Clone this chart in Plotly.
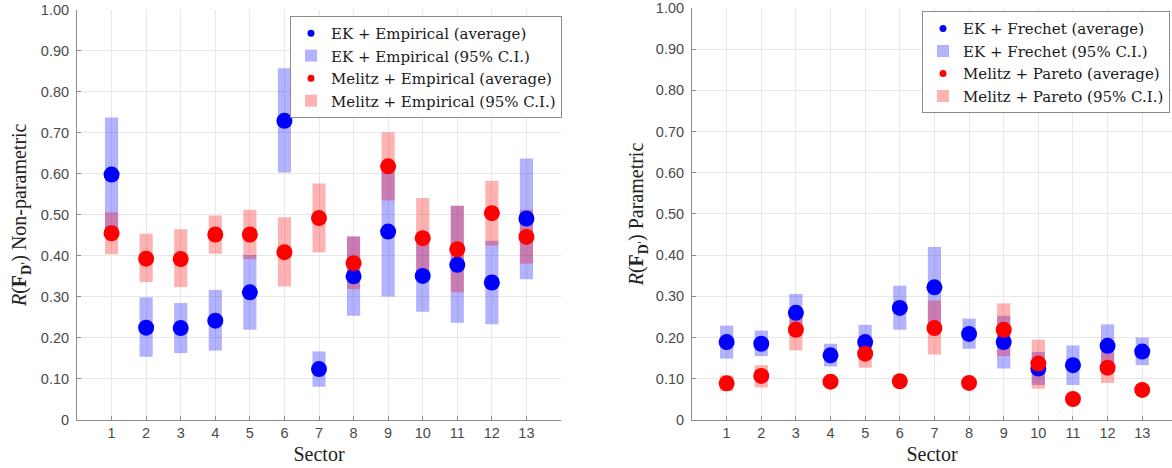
import plotly.graph_objects as go

sectors = list(range(1, 14))

# non-parametric (left)
ek_emp_avg = [0.598, 0.225, 0.224, 0.242, 0.311, 0.729, 0.124, 0.350, 0.459, 0.351, 0.378, 0.335, 0.491]
ek_emp_lo = [0.465, 0.154, 0.163, 0.169, 0.220, 0.603, 0.081, 0.254, 0.301, 0.264, 0.237, 0.233, 0.343]
ek_emp_hi = [0.737, 0.299, 0.285, 0.317, 0.402, 0.857, 0.167, 0.447, 0.615, 0.438, 0.522, 0.437, 0.637]
mel_emp_avg = [0.455, 0.393, 0.392, 0.452, 0.452, 0.409, 0.492, 0.382, 0.618, 0.443, 0.416, 0.504, 0.446]
mel_emp_lo = [0.404, 0.336, 0.324, 0.405, 0.392, 0.325, 0.409, 0.319, 0.535, 0.345, 0.311, 0.425, 0.381]
mel_emp_hi = [0.506, 0.454, 0.465, 0.498, 0.512, 0.494, 0.576, 0.447, 0.701, 0.541, 0.522, 0.583, 0.512]

# parametric (right)
ek_fre_avg = [0.189, 0.185, 0.260, 0.157, 0.189, 0.272, 0.322, 0.209, 0.189, 0.125, 0.133, 0.180, 0.166]
ek_fre_lo = [0.149, 0.155, 0.214, 0.130, 0.148, 0.219, 0.224, 0.173, 0.125, 0.085, 0.085, 0.128, 0.133]
ek_fre_hi = [0.229, 0.217, 0.306, 0.185, 0.231, 0.326, 0.420, 0.246, 0.253, 0.165, 0.181, 0.232, 0.200]
mel_par_avg = [0.089, 0.107, 0.219, 0.093, 0.161, 0.094, 0.223, 0.090, 0.219, 0.137, 0.051, 0.127, 0.073]
mel_par_lo = [0.070, 0.079, 0.169, 0.082, 0.127, 0.085, 0.159, 0.081, 0.155, 0.076, 0.045, 0.090, 0.065]
mel_par_hi = [0.108, 0.133, 0.269, 0.104, 0.195, 0.103, 0.290, 0.099, 0.283, 0.195, 0.057, 0.165, 0.081]

ytick_vals = [0, 0.1, 0.2, 0.3, 0.4, 0.5, 0.6, 0.7, 0.8, 0.9, 1.0]
ytick_text = ["0", "0.10", "0.20", "0.30", "0.40", "0.50", "0.60", "0.70", "0.80", "0.90", "1.00"]

BLUE = "#0000FF"
RED = "#FF0000"
BLUE_CI = "rgba(0,0,255,0.30)"
RED_CI = "rgba(255,0,0,0.30)"
SERIF = "Liberation Serif"
LEGFONT = dict(family="DejaVu Serif", size=15, color="#1a1a1a")

fig = go.Figure()


def add_panel(xa, ya, leg, avg1, lo1, hi1, avg2, lo2, hi2, names):
    d1 = [h - l for h, l in zip(hi1, lo1)]
    d2 = [h - l for h, l in zip(hi2, lo2)]
    fig.add_trace(go.Bar(x=sectors, y=d1, base=lo1, width=0.38, marker=dict(color=BLUE_CI, line_width=0),
                         name=names[1], legend=leg, legendrank=2, xaxis=xa, yaxis=ya))
    fig.add_trace(go.Scatter(x=sectors, y=avg1, mode="markers", marker=dict(color=BLUE, size=16),
                             showlegend=False, xaxis=xa, yaxis=ya))
    fig.add_trace(go.Scatter(x=[None], y=[None], mode="markers", marker=dict(color=BLUE, size=7),
                             name=names[0], legend=leg, legendrank=1, xaxis=xa, yaxis=ya))
    fig.add_trace(go.Bar(x=sectors, y=d2, base=lo2, width=0.38, marker=dict(color=RED_CI, line_width=0),
                         name=names[3], legend=leg, legendrank=4, xaxis=xa, yaxis=ya))
    fig.add_trace(go.Scatter(x=sectors, y=avg2, mode="markers", marker=dict(color=RED, size=16),
                             showlegend=False, xaxis=xa, yaxis=ya))
    fig.add_trace(go.Scatter(x=[None], y=[None], mode="markers", marker=dict(color=RED, size=7),
                             name=names[2], legend=leg, legendrank=3, xaxis=xa, yaxis=ya))


add_panel("x", "y", "legend", ek_emp_avg, ek_emp_lo, ek_emp_hi, mel_emp_avg, mel_emp_lo, mel_emp_hi,
          ["EK + Empirical (average)", "EK + Empirical (95% C.I.)",
           "Melitz + Empirical (average)", "Melitz + Empirical (95% C.I.)"])
add_panel("x2", "y2", "legend2", ek_fre_avg, ek_fre_lo, ek_fre_hi, mel_par_avg, mel_par_lo, mel_par_hi,
          ["EK + Frechet (average)", "EK + Frechet (95% C.I.)",
           "Melitz + Pareto (average)", "Melitz + Pareto (95% C.I.)"])

tickfont = dict(family="Liberation Sans", size=14.5, color="#4a4a4a")
xcommon = dict(range=[0, 14], tickvals=sectors, showgrid=True, gridcolor="#E8E8E8",
               showline=True, linecolor="#8C8C8C", ticks="inside", ticklen=4, tickcolor="#8C8C8C",
               tickfont=tickfont, zeroline=False,
               title=dict(text="Sector", font=dict(family=SERIF, size=20, color="#222"), standoff=6),
               automargin=False)
ycommon = dict(range=[0, 1], tickvals=ytick_vals, ticktext=ytick_text, showgrid=True, gridcolor="#E8E8E8",
               showline=True, linecolor="#8C8C8C", ticks="inside", ticklen=4, tickcolor="#8C8C8C",
               tickfont=tickfont, zeroline=False,
               ticklabelstandoff=4, automargin=False)

fig.update_layout(
    width=1172, height=468,
    margin=dict(l=0, r=0, t=0, b=0),
    plot_bgcolor="white", paper_bgcolor="white",
    barmode="overlay",
    xaxis=dict(xcommon, domain=[77 / 1172, 561 / 1172], anchor="y"),
    yaxis=dict(ycommon, domain=[0.1026, 0.9795], anchor="x",
               title=dict(text="<i>R</i>(<b>F</b><sub><b>D</b>′</sub>) Non-parametric",
                          font=dict(family=SERIF, size=20, color="#222"), standoff=8)),
    xaxis2=dict(xcommon, domain=[692 / 1172, 1.0], range=[0, 13.86], anchor="y2"),
    yaxis2=dict(ycommon, domain=[0.1026, 0.9829], anchor="x2",
                title=dict(text="<i>R</i>(<b>F</b><sub><b>D</b>′</sub>) Parametric",
                           font=dict(family=SERIF, size=20, color="#222"), standoff=6)),
    legend=dict(x=290 / 1172, y=0.966, xanchor="left", yanchor="top", bgcolor="white",
                bordercolor="#8C8C8C", borderwidth=1, font=LEGFONT,
                tracegroupgap=0, itemwidth=30),
    legend2=dict(x=1170 / 1172, y=0.976, xanchor="right", yanchor="top", bgcolor="white",
                 bordercolor="#8C8C8C", borderwidth=1, font=LEGFONT,
                 tracegroupgap=0, itemwidth=30),
)

# drop the page's default body margin so the figure sits at the window's corner
fig.write_html("out.html", config={"displayModeBar": False},
               post_script="document.body.style.margin='0';")
